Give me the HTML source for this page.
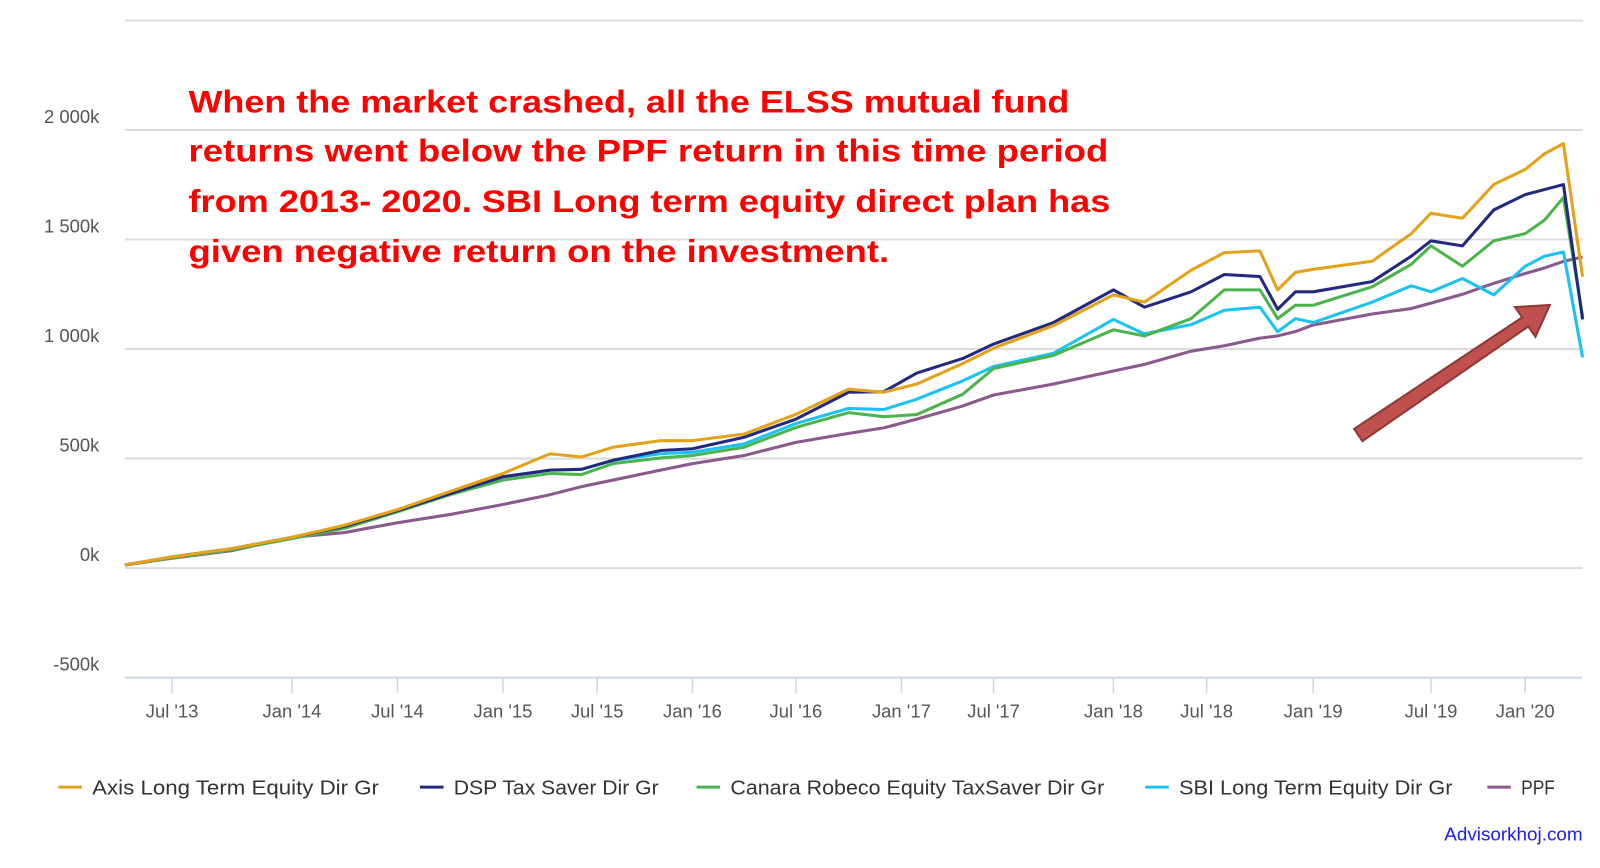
<!DOCTYPE html>
<html><head><meta charset="utf-8"><style>
html,body{margin:0;padding:0;background:#fff;}
svg{display:block;font-family:"Liberation Sans",sans-serif;}
</style></head><body>
<svg id="chart" width="1600" height="868" viewBox="0 0 1562 848" preserveAspectRatio="none" xmlns="http://www.w3.org/2000/svg">
<g id="grid"></g>
<g id="yaxis"></g>
<g id="xaxis"></g>
<g id="series"></g>
<g fill="#ff0000" font-weight="bold" font-size="31">
<text x="184" y="110" textLength="860" lengthAdjust="spacingAndGlyphs">When the market crashed, all the ELSS mutual fund</text>
<text x="184" y="158" textLength="898" lengthAdjust="spacingAndGlyphs">returns went below the PPF return in this time period</text>
<text x="184" y="207" textLength="900" lengthAdjust="spacingAndGlyphs">from 2013- 2020. SBI Long term equity direct plan has</text>
<text x="184" y="256" textLength="684" lengthAdjust="spacingAndGlyphs">given negative return on the investment.</text>
</g>
<polygon points="1322,419 1486,310 1479,300 1513,298 1499,329 1492,319 1330,431" fill="#c0504d" stroke="#8c3a38" stroke-width="2"/>
<g id="legend"></g>
<text x="1545" y="821" text-anchor="end" font-size="18" fill="#1a1aff" textLength="135" lengthAdjust="spacingAndGlyphs">Advisorkhoj.com</text>
</svg>
<script>
const months = [0,3,6,9,12,15,18,21,24,26,28,31,33,36,39,42,44,46,49,51,54,57,59,62,64,66,67,68,69,72,74,75,77,79,81,82,83,84];
const axisVals = [14,51,89,140,196,267,350,432,522,507,552,582,582,612,702,817,803,840,934,1004,1107,1247,1214,1360,1440,1448,1270,1350,1364,1401,1527,1620,1597,1751,1820,1891,1938,1330];
const dspVals = [14,51,89,140,191,262,340,417,447,451,492,537,545,597,680,803,805,890,957,1023,1121,1270,1191,1261,1340,1331,1182,1261,1261,1308,1424,1494,1471,1635,1705,1728,1751,1135];
const canaraVals = [14,47,84,135,182,257,335,402,432,427,477,503,514,552,642,710,691,701,794,911,971,1088,1060,1139,1270,1270,1139,1200,1200,1284,1387,1471,1378,1494,1527,1588,1691,1149];
const sbiVals = [14,47,84,135,187,262,340,417,447,451,492,522,529,567,660,729,724,771,855,920,981,1135,1069,1111,1177,1191,1079,1139,1121,1214,1289,1261,1322,1247,1378,1424,1443,962];
const ppfVals = [14,45,80,140,162,207,245,290,335,372,402,447,477,514,574,615,640,680,740,790,840,900,930,990,1015,1050,1060,1080,1110,1160,1185,1210,1250,1300,1345,1370,1400,1420];
const yTicks = [-500,0,500,1000,1500,2000,2500];
const yTickLabels = ["-500k","0k","500k","1 000k","1 500k","2 000k",""];
const xTickMonths = [3,9,15,21,27,33,39,45,51,57,63,69,75,81];
const xTickLabels = ["Jul '13","Jan '14","Jul '14","Jan '15","Jul '15","Jan '16","Jul '16","Jan '17","Jul '17","Jan '18","Jul '18","Jan '19","Jul '19","Jan '20"];
const seriesNames = ["Axis Long Term Equity Dir Gr","DSP Tax Saver Dir Gr","Canara Robeco Equity TaxSaver Dir Gr","SBI Long Term Equity Dir Gr","PPF"];

const NS="http://www.w3.org/2000/svg";
const colors=["#e3a21a","#232a7e","#4db34d","#1cc2f4","#8a5a8e"];
const legendX=[57,410,680,1118,1452], legendW=[280,200,365,267,33];
const anchorM=[0,3,9,15,21,27,33,39,45,51,57,63,69,75,81,84];
const anchorX=[122,168,285,388,491,583,676,777,880,970,1087,1178,1282,1397,1489,1545];
function xs(m){for(let i=0;i<anchorM.length-1;i++){if(m<=anchorM[i+1]){const t=(m-anchorM[i])/(anchorM[i+1]-anchorM[i]);return anchorX[i]+t*(anchorX[i+1]-anchorX[i]);}}return anchorX[anchorX.length-1];}
function ys(v){return 555-v*107/500;}
function mk(tag,attrs,parent){const e=document.createElementNS(NS,tag);for(const k in attrs)e.setAttribute(k,attrs[k]);parent.appendChild(e);return e;}
const grid=document.getElementById('grid'),yaxis=document.getElementById('yaxis'),xaxis=document.getElementById('xaxis'),ser=document.getElementById('series'),leg=document.getElementById('legend');
yTicks.forEach((v,i)=>{
  const l=mk('line',{x1:122,x2:1545,y1:ys(v),y2:ys(v),stroke:v===-500?'#ccd6eb':'#dcdcdc','stroke-width':2},grid);
  
  
  if(yTickLabels[i]){
    const t=mk('text',{x:97,y:ys(v)-7,'text-anchor':'end','font-size':18,fill:'#555'},yaxis);
    t.textContent=yTickLabels[i];
    
    
  }
});
xTickMonths.forEach((m,i)=>{
  const x=xs(m);
  const tk=mk('line',{x1:x,x2:x,y1:ys(-500),y2:ys(-500)+15,stroke:'#ccd6eb','stroke-width':1.5},xaxis);
  
  
  const t=mk('text',{x:x,y:701,'text-anchor':'middle','font-size':18,fill:'#555'},xaxis);
  t.textContent=xTickLabels[i];
  
  
});
[axisVals,dspVals,canaraVals,sbiVals,ppfVals].slice().reverse().forEach((vals,ri)=>{
  const i=4-ri;
  const d=vals.map((v,j)=>(j?'L':'M')+xs(months[j]).toFixed(1)+','+ys(v).toFixed(1)).join(' ');
  const p=mk('path',{d:d,fill:'none',stroke:colors[i],'stroke-width':3,'stroke-linejoin':'round'},ser);
  
  
});
seriesNames.forEach((n,i)=>{
  const g=mk('g',{},leg);
  
  
  mk('line',{x1:legendX[i],x2:legendX[i]+23,y1:769,y2:769,stroke:colors[i],'stroke-width':3},g);
  const t=mk('text',{x:legendX[i]+33,y:776,'font-size':20,fill:'#333',textLength:legendW[i],lengthAdjust:'spacingAndGlyphs'},g);
  t.textContent=n;
});
</script>
</body></html>
